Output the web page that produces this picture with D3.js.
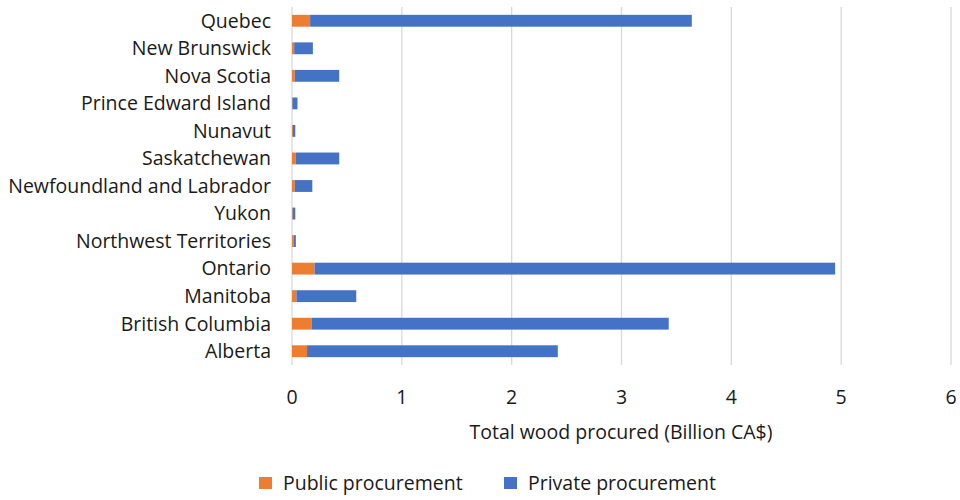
<!DOCTYPE html>
<html><head><meta charset="utf-8">
<script src="https://cdn.jsdelivr.net/npm/d3@7"></script>
<style>body{margin:0;background:#fff}</style>
</head><body>
<svg id="c" width="960" height="500"></svg>
<script>
const categories = ["Quebec","New Brunswick","Nova Scotia","Prince Edward Island","Nunavut","Saskatchewan","Newfoundland and Labrador","Yukon","Northwest Territories","Ontario","Manitoba","British Columbia","Alberta"];
const publicProc  = [0.165,0.02,0.025,0.004,0.008,0.035,0.025,0.006,0.015,0.205,0.04,0.18,0.137];
const privateProc = [3.475,0.17,0.405,0.046,0.022,0.395,0.16,0.024,0.02,4.74,0.545,3.25,2.283];
const xTicks = [0,1,2,3,4,5,6];
const seriesNames = ["Public procurement","Private procurement"];
const colors = ["#ED7D31","#4472C4"];

const font = "'Open Sans', sans-serif";
const fs = 19.5;
const svg = d3.select("#c");
const x = d3.scaleLinear().domain([0,6]).range([292,951]);
const y = d3.scaleBand().domain(categories).range([7,365]).paddingInner(0.57).paddingOuter(0.285);

svg.append("g").selectAll("line").data(xTicks).join("line")
  .attr("x1",d=>x(d)).attr("x2",d=>x(d)).attr("y1",7).attr("y2",365)
  .attr("stroke","#d9d9d9").attr("stroke-width",1.3);

const rows = categories.map((c,i)=>({c, p:publicProc[i], q:privateProc[i]}));
svg.append("g").selectAll("rect").data(rows).join("rect")
  .attr("x",d=>x(0)).attr("y",d=>y(d.c)).attr("width",d=>x(d.p)-x(0)).attr("height",y.bandwidth())
  .attr("fill",colors[0]);
svg.append("g").selectAll("rect").data(rows).join("rect")
  .attr("x",d=>x(d.p)).attr("y",d=>y(d.c)).attr("width",d=>x(d.p+d.q)-x(d.p)).attr("height",y.bandwidth())
  .attr("fill",colors[1]);

svg.append("g").selectAll("text").data(categories).join("text")
  .attr("x",271).attr("y",d=>y(d)+y.bandwidth()/2).attr("dy","0.35em")
  .attr("text-anchor","end").attr("font-family",font).attr("font-size",fs).attr("fill","#1a1a1a")
  .text(d=>d);

svg.append("g").selectAll("text").data(xTicks).join("text")
  .attr("x",d=>x(d)).attr("y",397).attr("dy","0.35em").attr("text-anchor","middle")
  .attr("font-family",font).attr("font-size",fs).attr("fill","#1a1a1a").text(d=>d);

svg.append("text").attr("x",621).attr("y",432).attr("dy","0.35em").attr("text-anchor","middle")
  .attr("font-family",font).attr("font-size",fs).attr("fill","#1a1a1a").text("Total wood procured (Billion CA$)");

const leg = [{x:259,t:seriesNames[0],c:colors[0]},{x:504,t:seriesNames[1],c:colors[1]}];
const lg = svg.append("g").selectAll("g").data(leg).join("g");
lg.append("rect").attr("x",d=>d.x).attr("y",477).attr("width",13).attr("height",12).attr("fill",d=>d.c);
lg.append("text").attr("x",d=>d.x+24).attr("y",483).attr("dy","0.35em")
  .attr("font-family",font).attr("font-size",fs).attr("fill","#1a1a1a").text(d=>d.t);
</script>
</body></html>
